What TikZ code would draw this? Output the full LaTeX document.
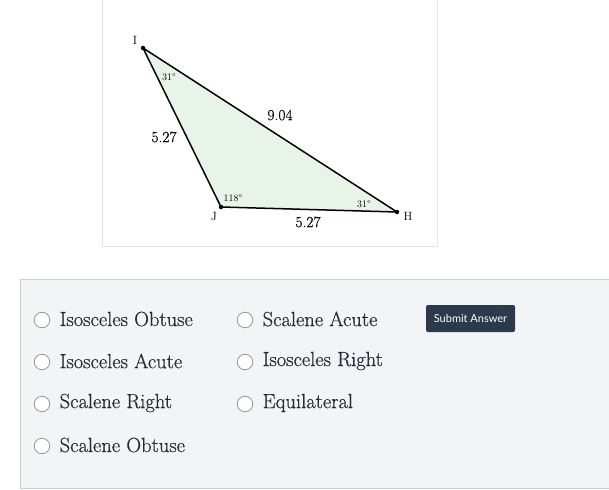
\documentclass[tikz,border=0pt]{standalone}
\usepackage{fontspec}
\newfontfamily\lato{Lato}
\newfontfamily\optfont[FakeBold=0.6]{Latin Modern Roman}
\newfontfamily\labfont[FakeBold=0.25]{Latin Modern Roman}
\newfontfamily\smallfont{Latin Modern Roman}
\definecolor{trifill}{HTML}{E9F4E9}
\definecolor{panelfill}{HTML}{F2F4F6}
\definecolor{panelline}{HTML}{CCCED2}
\definecolor{framecol}{HTML}{E4E4E4}
\definecolor{btn}{HTML}{2B3A4C}
\definecolor{opttext}{HTML}{262C36}
\begin{document}
\begin{tikzpicture}[x=1pt,y=-1pt,
  vdot/.style={circle,fill=black,inner sep=0pt,minimum size=4.5pt},
  vlab/.style={font=\smallfont\fontsize{12}{12}\selectfont,inner sep=0pt},
  anglab/.style={font=\smallfont\fontsize{10}{10}\selectfont,inner sep=0pt},
  sidelab/.style={font=\labfont\fontsize{15.5}{15.5}\selectfont,inner sep=0pt},
  radio/.style={circle,draw=gray!80,fill=white,line width=0.8pt,minimum size=15.5pt,inner sep=0pt},
  opt/.style={anchor=west,font=\optfont\fontsize{20.5}{20.5}\selectfont,text=opttext,inner sep=0pt}]
\useasboundingbox (0,0) rectangle (609,489);
\fill[white] (0,0) rectangle (609,489);
% image frame
\draw[framecol,line width=0.8pt] (102,-5) rectangle (437,246);
% triangle
\coordinate (I) at (143,48);
\coordinate (J) at (221,207);
\coordinate (H) at (397,212);
\fill[trifill] (I) -- (J) -- (H) -- cycle;
\draw[line width=1.5pt,line join=round] (I) -- (J) -- (H) -- cycle;
\node[vdot] (Id) at (I) {};
\node[vdot] (Jd) at (J) {};
\node[vdot] (Hd) at (H) {};
\node[vlab] (Il) at (135,40) {I};
\node[vlab] (Jl) at (214,217) {J};
\node[vlab] (Hl) at (408,216) {H};
\node[anglab] (aI) at (169,77) {31°};
\node[anglab] (aJ) at (233,198) {118°};
\node[anglab] (aH) at (364,204) {31°};
\node[sidelab] (sIJ) at (164,137) {5.27};
\node[sidelab] (sIH) at (280,115) {9.04};
\node[sidelab] (sJH) at (308,222) {5.27};
% panel
\draw[panelline,fill=panelfill,line width=0.8pt] (20,279) rectangle (615,488);
% options
\foreach \y/\t [count=\i] in {320/Isosceles Obtuse,362/Isosceles Acute,404/Scalene Right,446/Scalene Obtuse}{
  \node[radio] (ra\i) at (42,\y) {};
  \node[opt] (ta\i) at (59.5,\y-1) {\t};
}
\foreach \y/\t [count=\i] in {320/Scalene Acute,362/Isosceles Right,404/Equilateral}{
  \node[radio] (rb\i) at (245,\y) {};
  \node[opt] (tb\i) at (262.5,\y-1) {\t};
}
\node[fill=btn,rounded corners=2pt,minimum width=89pt,minimum height=27pt,inner sep=0pt,
  text=white,font=\lato\fontsize{11}{11}\selectfont] (submit) at (470.5,318.5) {Submit Answer};
\end{tikzpicture}
\end{document}
